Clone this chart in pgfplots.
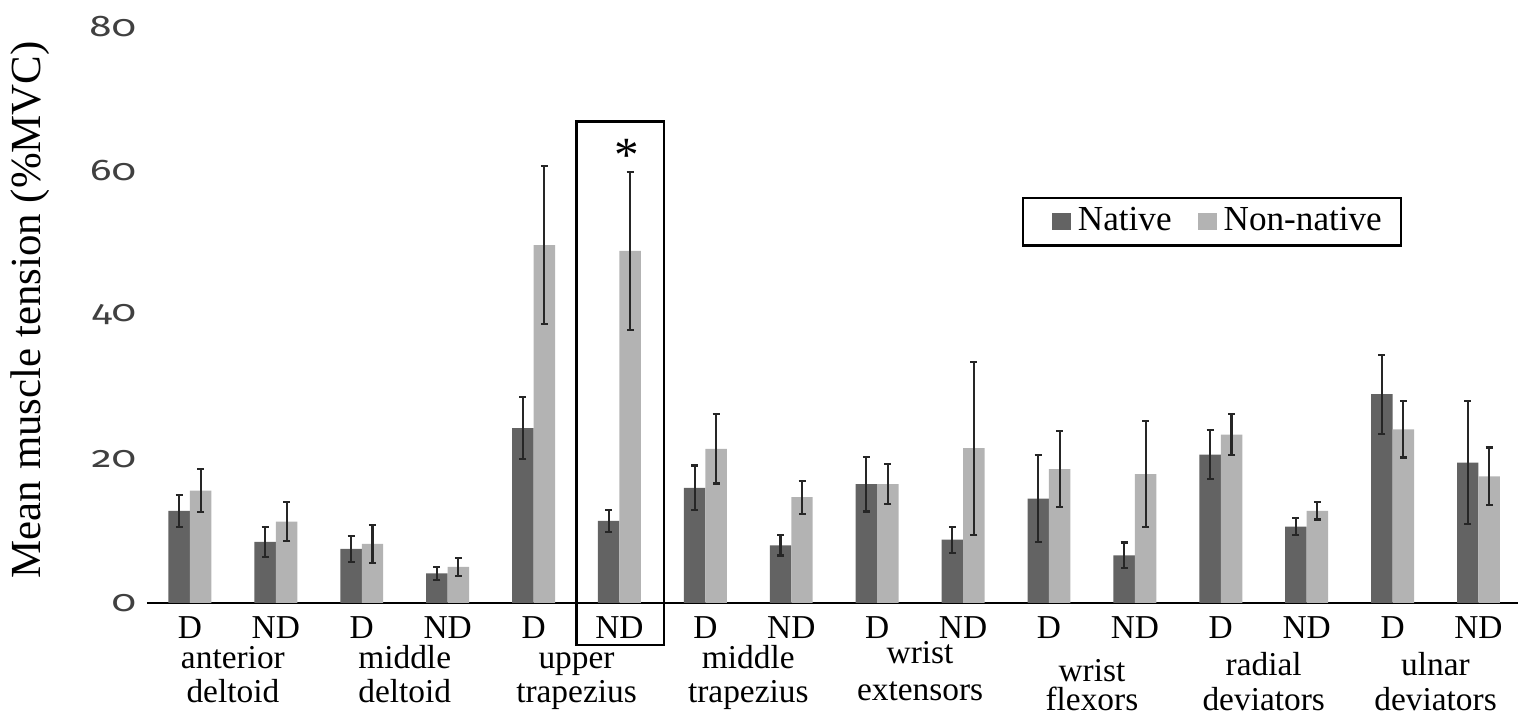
\documentclass[border=0pt]{standalone}
\usepackage{fontspec}
\setmainfont{Liberation Serif}
\newfontfamily\tickfont[Numbers=OldStyle]{Fira Sans}
\usepackage{pgfplots}
\usepackage{pgfplotstable}
\pgfplotsset{compat=1.18}

\definecolor{native}{RGB}{99,99,99}
\definecolor{nonnative}{RGB}{179,179,179}

% mean %MVC and error for each muscle / side
\pgfplotstableread{
x  nat   natErr  non   nonErr
0  12.8  2.2     15.6  3.0
1  8.5   2.1     11.3  2.7
2  7.5   1.8     8.2   2.6
3  4.1   0.9     5.0   1.2
4  24.3  4.3     49.7  11.0
5  11.4  1.5     48.9  11.0
6  16.0  3.1     21.4  4.8
7  8.0   1.4     14.7  2.3
8  16.5  3.8     16.5  2.8
9  8.8   1.8     21.5  12.0
10 14.5  6.0     18.6  5.3
11 6.6   1.8     17.9  7.4
12 20.6  3.4     23.4  2.8
13 10.6  1.2     12.8  1.2
14 29.0  5.5     24.1  3.9
15 19.5  8.5     17.6  4.0
}\datatable

\newcommand{\muscle}[3]{%
  \node[anchor=base, inner sep=0pt, font=\fontsize{9.5}{9.5}\selectfont] at (axis cs:#1,#2) {#3};%
}

\begin{document}
\begin{tikzpicture}
\begin{axis}[
  scale only axis,
  width=13.71cm, height=5.76cm,
  at={(0,0)}, anchor=south west,
  xmin=-0.5, xmax=15.46, ymin=0, ymax=80,
  clip=false,
  ybar=0pt, bar width=0.25,
  axis x line*=bottom, axis y line*=left,
  y axis line style={draw=none},
  x axis line style={line width=0.6pt, -},
  tick align=outside,
  major tick length=0cm,
  minor tick length=0.06cm,
  ytick={0,20,...,80},
  ytick style={draw=none},
  /pgf/number format/assume math mode=true,
  yticklabel style={font=\tickfont\fontsize{8.5}{8.5}\selectfont, text=black!75,
    anchor=east, inner sep=0pt, xshift=-0.1cm, xscale=1.35},
  xtick={0,...,15},
  xticklabels={D,ND,D,ND,D,ND,D,ND,D,ND,D,ND,D,ND,D,ND},
  xtick style={draw=none},
  minor xtick={-0.5,0.5,...,14.5},
  minor x tick style={black, line width=0.4pt},
  xticklabel style={font=\fontsize{9.5}{9.5}\selectfont, anchor=base,
    inner sep=0pt, yshift=-0.36cm},
  ylabel={Mean muscle tension (\%MVC)},
  ylabel style={at={(axis description cs:-0.0853,0.509)}, anchor=center,
    font=\fontsize{12.2}{14}\selectfont},
  legend columns=2,
  legend style={at={(rel axis cs:0.638,0.705)}, anchor=north west,
    draw=black, line width=0.7pt, fill=white,
    font=\fontsize{10}{10}\selectfont,
    inner xsep=0.12cm, inner ysep=0.7pt,
    nodes={inner ysep=2pt},
    /tikz/every even column/.append style={column sep=0.02cm}},
  legend image code/.code={%
    \path (0cm,0cm) (0.17cm,0cm);
    \fill[#1] (0.17cm,-0.085cm) rectangle (0.36cm,0.085cm);},
]
\addplot[fill=native, draw=none,
  error bars/.cd, y dir=both, y explicit,
  error bar style={line width=0.6pt, black!85},
  error mark options={rotate=90, mark size=0.035cm, line width=0.6pt, black!85}]
  table[x=x, y=nat, y error=natErr]{\datatable};
\addplot[fill=nonnative, draw=none,
  error bars/.cd, y dir=both, y explicit,
  error bar style={line width=0.6pt, black!85},
  error mark options={rotate=90, mark size=0.035cm, line width=0.6pt, black!85}]
  table[x=x, y=non, y error=nonErr]{\datatable};
\legend{Native, Non-native}

% muscle names below the D/ND labels
\muscle{0.5}{-9.15}{anterior}
\muscle{0.5}{-13.85}{deltoid}
\muscle{2.5}{-9.15}{middle}
\muscle{2.5}{-13.85}{deltoid}
\muscle{4.5}{-9.15}{upper}
\muscle{4.5}{-13.85}{trapezius}
\muscle{6.5}{-9.15}{middle}
\muscle{6.5}{-13.85}{trapezius}
\muscle{8.5}{-8.45}{wrist}
\muscle{8.5}{-13.55}{extensors}
\muscle{10.5}{-10.95}{wrist}
\muscle{10.5}{-14.95}{flexors}
\muscle{12.5}{-10.1}{radial}
\muscle{12.5}{-14.9}{deviators}
\muscle{14.5}{-10.1}{ulnar}
\muscle{14.5}{-14.9}{deviators}

% highlighted comparison
\draw[line width=0.7pt] (axis cs:4.5,-5.8) rectangle (axis cs:5.52,66.9);
\node[font=\fontsize{14}{14}\selectfont, inner sep=0pt] at (axis cs:5.08,62.2) {*};
\end{axis}
\pgfresetboundingbox
\useasboundingbox (-1.47cm,-1.14cm) rectangle (13.71cm,6.03cm);
\end{tikzpicture}
\end{document}
